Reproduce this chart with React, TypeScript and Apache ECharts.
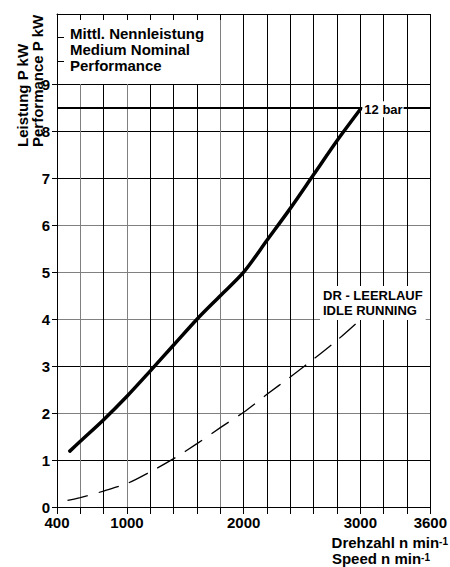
import React, { useEffect, useRef } from 'react';
import * as echarts from 'echarts';

// ---- data ----
const speedLabels = [400, 1000, 2000, 3000, 3600];
const powerLabels = [0, 1, 2, 3, 4, 5, 6, 7, 8, 9];
const boxStubValues = [9.5, 10];

const nominalSpeed = [510, 600, 800, 1000, 1200, 1400, 1600, 1800, 2000, 2200, 2400, 2600, 2800, 3000];
const nominalPower = [1.19, 1.40, 1.86, 2.36, 2.90, 3.45, 4.00, 4.50, 5.00, 5.68, 6.36, 7.08, 7.80, 8.47];

const idleSpeed = [490, 600, 800, 1000, 1200, 1400, 1600, 1800, 2000, 2200, 2400, 2600, 2800, 3000];
const idlePower = [0.14, 0.20, 0.34, 0.50, 0.75, 1.03, 1.35, 1.69, 2.02, 2.40, 2.77, 3.15, 3.55, 3.99];

const referenceLevel = 8.5;

const FONT = "'Liberation Sans', Arial, Helvetica, sans-serif";
const DARK = '#000';
const GREY = '#808080';

const xGreyLines = [600, 1000, 1800];
const yGreyLines = [1, 2, 2.5, 3];

function buildColors(min: number, max: number, step: number, grey: number[]) {
  const out: string[] = [];
  for (let v = min; v <= max + 1e-9; v += step) {
    const r = Math.round(v * 100) / 100;
    out.push(grey.includes(r) ? GREY : DARK);
  }
  return out;
}

export default function App() {
  const ref = useRef<HTMLDivElement>(null);

  useEffect(() => {
    if (!ref.current) return;
    const chart = echarts.init(ref.current, undefined, { renderer: 'svg' });

    const bold = { fontFamily: FONT, fontWeight: 'bold' as const, color: '#000' };
    const richName = {
      a: { fontFamily: FONT, fontWeight: 'bold', fontSize: 15, lineHeight: 14, fill: '#000', verticalAlign: 'bottom' },
      b: { fontFamily: FONT, fontWeight: 'bold', fontSize: 10, lineHeight: 14, fill: '#000', verticalAlign: 'top' },
    };

    const option: any = {
      animation: false,
      backgroundColor: '#fff',
      grid: { left: 57, right: 18, top: 14, bottom: 60, show: false },
      xAxis: [
        {
          type: 'value', min: 400, max: 3600, interval: 200, position: 'bottom',
          axisLine: { show: true, onZero: false, lineStyle: { color: '#000', width: 1 } },
          axisTick: { show: true, length: 7, lineStyle: { color: '#000', width: 1 } },
          axisLabel: {
            ...bold, fontSize: 15, margin: 8, customValues: speedLabels,
            formatter: (v: number) => String(v),
          },
          splitLine: { show: true, lineStyle: { color: buildColors(400, 3600, 200, xGreyLines), width: 1 } },
        },
        {
          type: 'value', min: 400, max: 3600, interval: 200, position: 'top', z: 5,
          axisLine: { show: true, onZero: false, lineStyle: { color: '#000', width: 1 } },
          axisTick: { show: true, inside: true, length: 6, lineStyle: { color: '#000' } },
          axisLabel: { show: false },
          splitLine: { show: false },
        },
      ],
      yAxis: [
        {
          type: 'value', min: 0, max: 10.5, interval: 0.5, position: 'left',
          axisLine: { show: true, onZero: false, lineStyle: { color: '#000', width: 1 } },
          axisTick: { show: true, length: 5, customValues: powerLabels, lineStyle: { color: '#000' } },
          axisLabel: {
            ...bold, fontSize: 15, margin: 7, customValues: powerLabels,
            formatter: (v: number) => String(v),
          },
          splitLine: { show: true, lineStyle: { color: buildColors(0, 10.5, 0.5, yGreyLines), width: 1 } },
        },
        {
          type: 'value', min: 0, max: 10.5, interval: 0.5, position: 'left', z: 5,
          axisLine: { show: false },
          axisTick: { show: true, inside: true, length: 7, customValues: boxStubValues, lineStyle: { color: '#000' } },
          axisLabel: { show: false },
          splitLine: { show: false },
        },
      ],
      series: [
        {
          type: 'line', name: 'idle', xAxisIndex: 0, yAxisIndex: 0, z: 2,
          data: idleSpeed.map((s, i) => [s, idlePower[i]]),
          symbol: 'none', showSymbol: false, smooth: 0.3,
          lineStyle: { color: '#000', width: 1.3, type: [21, 11] },
          markLine: {
            silent: true, symbol: 'none', animation: false, z: 2,
            label: { show: false },
            lineStyle: { color: '#000', width: 2, type: 'solid' },
            data: [{ yAxis: referenceLevel }],
          },
        },
        {
          type: 'line', name: '12 bar', xAxisIndex: 0, yAxisIndex: 0, z: 4,
          data: nominalSpeed.map((s, i) => [s, nominalPower[i]]),
          symbol: 'none', showSymbol: false, smooth: 0.3,
          lineStyle: { color: '#000', width: 3.5, cap: 'round' },
          endLabel: {
            show: true, formatter: '12 bar', ...bold, fontSize: 13,
            backgroundColor: '#fff', padding: [2, 1, 1, 2], distance: 2,
          },
        },
      ],
      graphic: [
        {
          type: 'rect', z: 1, silent: true,
          shape: { x: 58, y: 15, width: 158, height: 69 },
          style: { fill: '#fff' },
        },
        {
          type: 'text', z: 6, x: 70, y: 25,
          style: {
            text: 'Mittl. Nennleistung\nMedium Nominal\nPerformance',
            fontFamily: FONT, fontWeight: 'bold', fontSize: 15, lineHeight: 16, fill: '#000',
            align: 'left', verticalAlign: 'top',
          },
        },
        {
          type: 'text', z: 6, x: 320, y: 286,
          style: {
            text: 'DR - LEERLAUF\nIDLE RUNNING',
            fontFamily: FONT, fontWeight: 'bold', fontSize: 13, lineHeight: 15, fill: '#000',
            backgroundColor: '#fff', padding: [2, 3, 2, 3],
            align: 'left', verticalAlign: 'top',
          },
        },
        {
          type: 'text', z: 6, x: 22, y: 147, rotation: Math.PI / 2,
          style: {
            text: 'Leistung P kW', fontFamily: FONT, fontWeight: 'bold', fontSize: 15, fill: '#000',
            align: 'left', verticalAlign: 'middle',
          },
        },
        {
          type: 'text', z: 6, x: 37, y: 147, rotation: Math.PI / 2,
          style: {
            text: 'Performance P kW', fontFamily: FONT, fontWeight: 'bold', fontSize: 15, fill: '#000',
            align: 'left', verticalAlign: 'middle',
          },
        },
        {
          type: 'text', z: 6, x: 448, y: 536,
          style: { text: '{a|Drehzahl n min}{b|-1}', align: 'right', verticalAlign: 'top', rich: richName },
        },
        {
          type: 'text', z: 6, x: 430, y: 552,
          style: { text: '{a|Speed n min}{b|-1}', align: 'right', verticalAlign: 'top', rich: richName },
        },
      ],
    };

    chart.setOption(option);
    return () => chart.dispose();
  }, []);

  return (
    <div
      ref={ref}
      style={{ position: 'fixed', left: 0, top: 0, width: 450, height: 567, background: '#fff' }}
    />
  );
}
